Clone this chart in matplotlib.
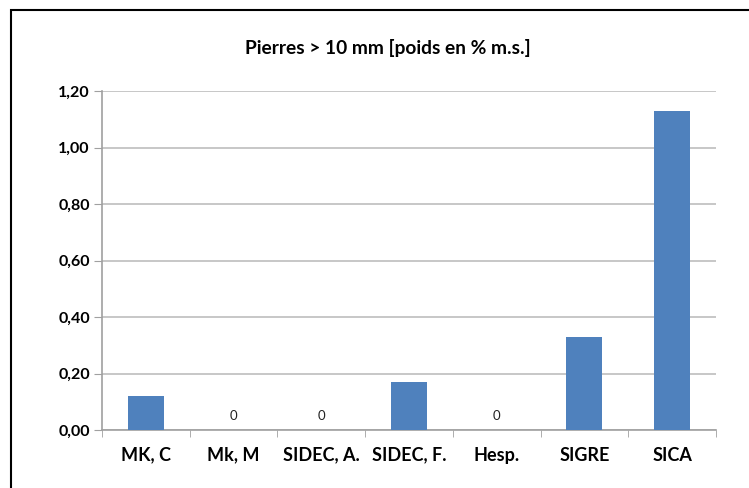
import numpy as np
import matplotlib
matplotlib.use('Agg')
import matplotlib.pyplot as plt
from matplotlib.patches import Rectangle
from matplotlib.ticker import FuncFormatter

categories = ['MK, C', 'Mk, M', 'SIDEC, A.', 'SIDEC, F.', 'Hesp.', 'SIGRE', 'SICA']
values = [0.12, 0.0, 0.0, 0.17, 0.0, 0.33, 1.13]

plt.rcParams['font.family'] = ['Lato', 'DejaVu Sans']

fig = plt.figure(figsize=(7.49, 4.88), dpi=100)
ax = fig.add_axes([102/749, 58/488, 614/749, 339/488])

x = np.arange(len(categories))
ax.bar(x, values, width=0.41, color='#4F81BD', zorder=3)
for xi, v in zip(x, values):
    if v == 0:
        ax.text(xi, 0.03, '0', ha='center', va='bottom', fontsize=9.5, color='#222222')

ax.set_xlim(-0.5, len(categories) - 0.5)
ax.set_ylim(0, 1.2)
ax.set_yticks(np.arange(0, 1.21, 0.2))
ax.yaxis.set_major_formatter(FuncFormatter(lambda v, p: f'{v:.2f}'.replace('.', ',')))
ax.set_xticks(x)
ax.set_xticklabels(categories, fontsize=13, fontweight='bold')
ax.set_xticks(np.arange(-0.5, len(categories)), minor=True)
ax.tick_params(axis='x', which='major', length=0, pad=12)
ax.tick_params(axis='x', which='minor', length=5, color='#A0A0A0', direction='out')
ax.tick_params(axis='y', length=5.8, color='#A0A0A0', labelsize=11.5, pad=3)
for lab in ax.get_yticklabels():
    lab.set_fontweight('bold')
ax.grid(axis='y', color='#BEBEBE', linewidth=1.2, zorder=0)
for s in ['top', 'right']:
    ax.spines[s].set_visible(False)
for s in ['left', 'bottom']:
    ax.spines[s].set_color('#A0A0A0')
    ax.spines[s].set_linewidth(1.2)

fig.text(388/749, 1 - 48/488, 'Pierres > 10 mm [poids en % m.s.]', ha='center', va='center',
         fontsize=13.8, fontweight='bold')

fig.patches.append(Rectangle((11/749, -0.1), 1.2, 1 - 9.5/488 + 0.1, transform=fig.transFigure,
                             fill=False, edgecolor='black', linewidth=1.5))

fig.savefig('out.png', dpi=100)
